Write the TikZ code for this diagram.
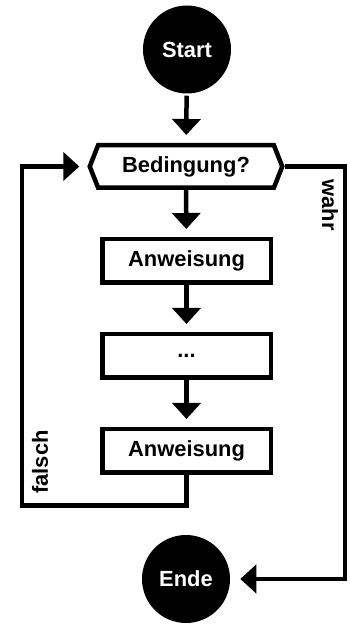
\documentclass[tikz,border=0pt]{standalone}
\usepackage{fontspec}
\setmainfont{Liberation Sans}
\usepackage{tikz}
\usetikzlibrary{arrows.meta}
\usetikzlibrary{calc}
\usetikzlibrary{positioning}
\usetikzlibrary{shapes.symbols}

\begin{document}
\begin{tikzpicture}[x=1pt,y=1pt,
		font=\fontsize{21.9}{26}\selectfont\bfseries,
		line width=4.5pt,
		terminal/.style={circle,fill=black,text=white,minimum size=88pt,inner sep=0pt},
		anweisung/.style={draw,rectangle,minimum width=168.5pt,minimum height=43.5pt,inner sep=0pt},
		bedingung/.style={draw,signal,signal to=east and west,signal pointer angle=137,minimum width=192.5pt,minimum height=42.5pt,inner sep=0pt},
		pfeil/.style={-{Triangle[width=28pt,length=16pt]},shorten >=8pt}]
		\useasboundingbox (0,0) rectangle (349,626);
		% Knoten
		\node[terminal] (start) at (187,576.5) {Start};
		\node[bedingung] (cond) at (186,459.5) {Bedingung?};
		\node[anweisung] (anw1) at (186.5,365) {Anweisung};
		\node[anweisung] (punkte) at (186.5,270) {...};
		\node[anweisung] (anw2) at (186.5,175) {Anweisung};
		\node[terminal] (ende) at (186,47) {Ende};
		\coordinate (links) at (22,120.5);
		\coordinate (rechts) at (345,459.5);
		% Pfeile
		\draw[pfeil] (start) -- (cond);
		\draw[pfeil] (cond) -- (anw1);
		\draw[pfeil] (anw1) -- (punkte);
		\draw[pfeil] (punkte) -- (anw2);
		\draw[pfeil] (anw2.south) |- (links) |- (cond.west);
		\draw[pfeil] (cond.east) -- (rechts) |- (ende.east);
		% Beschriftung
		\node[rotate=-90] (wahr) at (330,421) {wahr};
		\node[rotate=90] (falsch) at (40,164) {falsch};
	\end{tikzpicture}
\end{document}
